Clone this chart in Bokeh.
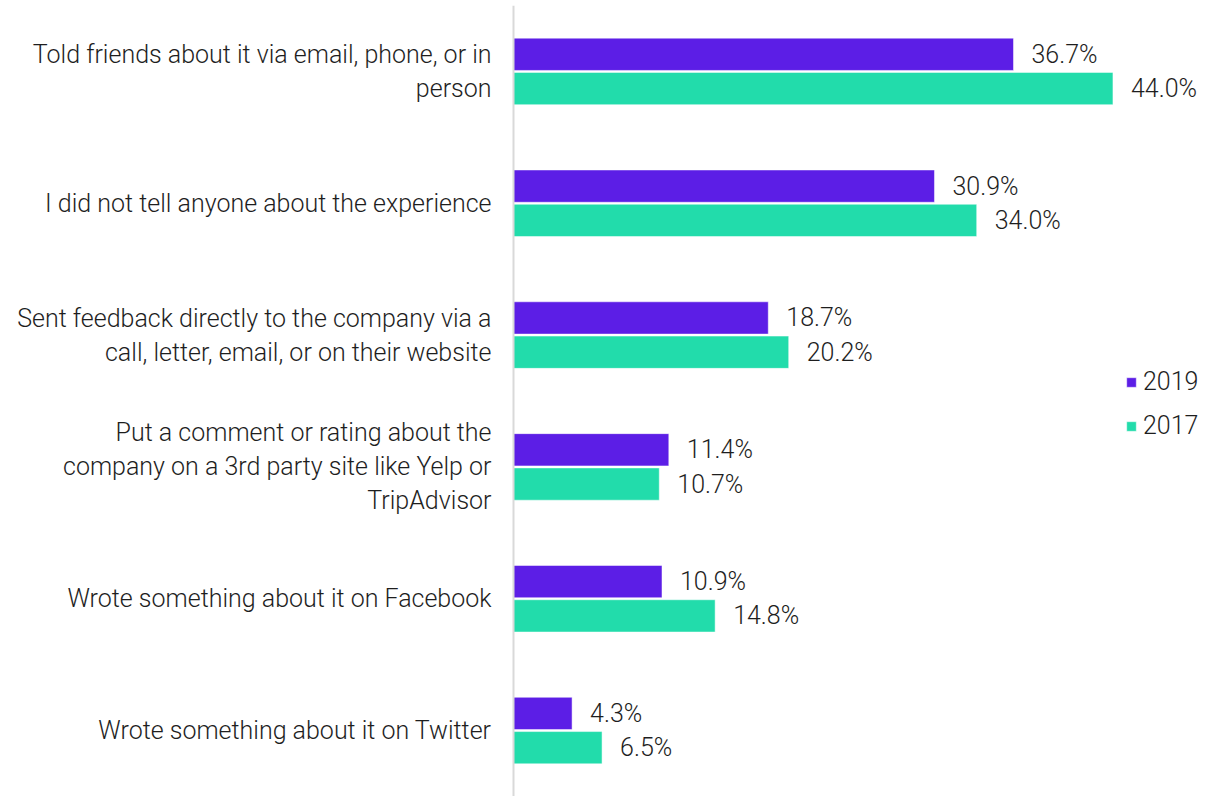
from bokeh.plotting import figure
from bokeh.models import ColumnDataSource, Span, Legend, LegendItem, FactorRange
from bokeh.transform import dodge
from bokeh.core.properties import value
from bokeh.embed import file_html
from bokeh.resources import INLINE

categories = [
    "Told friends about it via email, phone, or in\nperson",
    "I did not tell anyone about the experience",
    "Sent feedback directly to the company via a\ncall, letter, email, or on their website",
    "Put a comment or rating about the\ncompany on a 3rd party site like Yelp or\nTripAdvisor",
    "Wrote something about it on Facebook",
    "Wrote something about it on Twitter",
]
values_2019 = [36.7, 30.9, 18.7, 11.4, 10.9, 4.3]
values_2017 = [44.0, 34.0, 20.2, 10.7, 14.8, 6.5]
series_names = ["2019", "2017"]

FONT = "'Roboto Light', Roboto"
FS = "25px"
PURPLE = "#5c1ee6"
TEAL = "#22dcab"
TEXT = "#1e1e1e"

W, H = 1219, 796
AXIS_PX = 513
PX_PER = 500 / 36.7
x_start = -AXIS_PX / PX_PER
x_end = (W - AXIS_PX) / PX_PER

factors = list(reversed(categories))

src = ColumnDataSource(dict(
    cat=categories,
    v2019=values_2019,
    v2017=values_2017,
    l2019=[f"{v:.1f}%" for v in values_2019],
    l2017=[f"{v:.1f}%" for v in values_2017],
    lx=[-22 / PX_PER] * len(categories),
))

p = figure(width=W, height=H, output_backend="svg", toolbar_location=None,
           y_range=FactorRange(factors=factors, range_padding=0),
           x_range=(x_start, x_end),
           min_border_left=0, min_border_right=0, min_border_top=5, min_border_bottom=0)
p.axis.visible = False
p.grid.visible = False
p.outline_line_color = None
p.background_fill_color = "white"

OFF = 0.13
BH = 0.245
r19 = p.hbar(y=dodge("cat", OFF, range=p.y_range), right="v2019", left=0, height=BH,
             source=src, fill_color=PURPLE, line_color="white", line_width=0.5)
r17 = p.hbar(y=dodge("cat", -OFF, range=p.y_range), right="v2017", left=0, height=BH,
             source=src, fill_color=TEAL, line_color="white", line_width=0.5)

p.text(x="v2019", y=dodge("cat", OFF, range=p.y_range), text="l2019", source=src,
       x_offset=18, text_align="left", text_baseline="middle",
       text_font=value(FONT), text_font_size=FS, text_color=TEXT)
p.text(x="v2017", y=dodge("cat", -OFF, range=p.y_range), text="l2017", source=src,
       x_offset=18, text_align="left", text_baseline="middle",
       text_font=value(FONT), text_font_size=FS, text_color=TEXT)

p.text(x="lx", y="cat", text="cat", source=src, text_align="right",
       text_baseline="middle", text_font=value(FONT), text_font_size=FS,
       text_color=TEXT, text_line_height=1.17)

p.add_layout(Span(location=0, dimension="height", line_color="#d9d9d9", line_width=2))

legend = Legend(items=[LegendItem(label=series_names[0], renderers=[r19]),
                       LegendItem(label=series_names[1], renderers=[r17])],
                location=(1125, 356), orientation="vertical",
                glyph_width=12, glyph_height=12, label_height=24, label_standoff=6,
                spacing=15, padding=0, margin=0,
                label_text_font=FONT, label_text_font_size=FS, label_text_color=TEXT,
                border_line_color=None, background_fill_alpha=0)
p.add_layout(legend)

open("out.html", "w").write(file_html(p, INLINE))
